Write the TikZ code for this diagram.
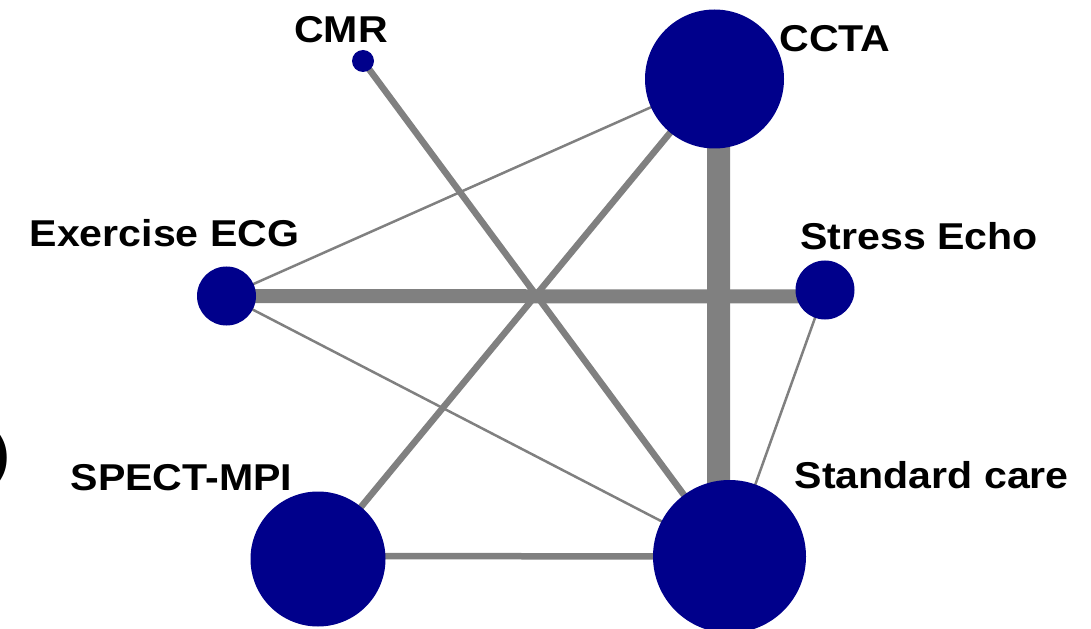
\documentclass[tikz,border=0pt]{standalone}
\usepackage{fontspec}
\setmainfont{Liberation Sans}
\usetikzlibrary{backgrounds}
\definecolor{netblue}{RGB}{0,0,139}
\definecolor{netgray}{RGB}{128,128,128}
\tikzset{
  trt/.style={circle, fill=netblue, inner sep=0pt, minimum size=#1},
  lab/.style={anchor=base, inner sep=0pt, xscale=1.1, font=\fontsize{37.5}{40}\selectfont\bfseries},
  link/.style={draw=netgray, line width=#1},
}
\begin{document}
\begin{tikzpicture}[x=1bp, y=-1bp]
\useasboundingbox (0,0) rectangle (1091,629);
\clip (0,0) rectangle (1091,629);
% treatments
\node[trt=22bp]  (cmr)   at (363,61) {};
\node[trt=139bp] (ccta)  at (714.5,79) {};
\node[trt=59bp]  (ecg)   at (226.5,296) {};
\node[trt=59bp]  (echo)  at (825,290) {};
\node[trt=135bp] (spect) at (318,559) {};
\node[trt=153bp] (std)   at (729.5,556.5) {};
% labels
\node[lab] (cmrlab)   at (341,42.7) {CMR};
\node[lab] (cctalab)  at (835,52) {CCTA};
\node[lab] (ecglab)   at (164.5,246.7) {Exercise ECG};
\node[lab] (echolab)  at (919,249.3) {Stress Echo};
\node[lab] (spectlab) at (181.5,490) {SPECT-MPI};
\node[lab] (stdlab)   at (931.7,488) {Standard care};
\node[anchor=base west, inner sep=0pt, font=\fontsize{52}{56}\selectfont\bfseries] (tag) at (-8,471) {)};
% comparisons
\begin{scope}[on background layer]
\draw[link=2.5bp] (ccta.center) -- (ecg.center);
\draw[link=2.5bp] (ecg.center) -- (std.center);
\draw[link=2.5bp] (echo.center) -- (std.center);
\draw[link=6.5bp] (cmr.center) -- (std.center);
\draw[link=6.5bp] (ccta.center) -- (spect.center);
\draw[link=6.5bp] ([yshift=3bp]spect.center) -- (std.center);
\draw[link=14bp] (ecg.center) -- ([yshift=-6.5bp]echo.center);
\draw[link=23bp] ([xshift=4bp]ccta.center) -- ([xshift=-11bp]std.center);
\end{scope}
\end{tikzpicture}
\end{document}
